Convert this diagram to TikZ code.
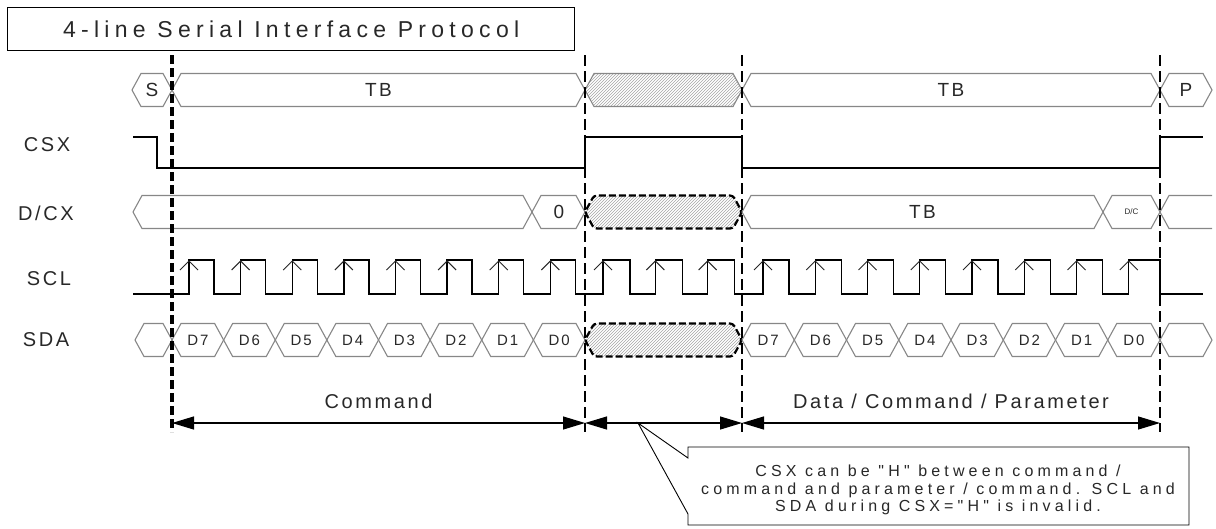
\documentclass[tikz,border=0pt]{standalone}
\usepackage{fontspec}
\setmainfont{Liberation Sans}
\newfontfamily\widefont[LetterSpace=23]{Liberation Sans}
\newfontfamily\notefont[LetterSpace=26]{Liberation Sans}
\newfontfamily\medfont[LetterSpace=13]{Liberation Sans}
\usetikzlibrary{arrows.meta, patterns}
\definecolor{busgray}{RGB}{135,135,135}
\definecolor{inkgray}{RGB}{40,40,40}

\newcommand{\hexcell}[4][]{%
  \draw[bus,#1] (#2,#4) -- ({#2+9},{#4-16.5}) -- ({#3-9},{#4-16.5}) -- (#3,#4)
    -- ({#3-9},{#4+16.5}) -- ({#2+9},{#4+16.5}) -- cycle;}

\begin{document}
\begin{tikzpicture}[x=1pt, y=-1pt,
    bus/.style={draw=busgray, line width=1.1pt},
    sig/.style={draw=black, line width=1.4pt},
    hatched/.style={pattern=north east lines, pattern color=busgray!75},
    hatchdash/.style={hatched, draw=black, line width=2.2pt, dash pattern=on 7pt off 3pt, rounded corners=3pt},
    guide/.style={draw=black, line width=2pt, dash pattern=on 11pt off 5pt},
    guidebold/.style={guide, line width=3.4pt, dash pattern=on 9pt off 4pt},
    dim/.style={draw=black, line width=1.2pt, >={Triangle[length=22pt,width=13pt]}, <->},
    risemark/.style={draw=black!85, line width=1pt},
    busText/.style={text=inkgray, font=\medfont\fontsize{19}{22}\selectfont, inner sep=0pt},
    bitText/.style={text=inkgray, font=\medfont\fontsize{15}{17}\selectfont, inner sep=0pt},
    sigName/.style={text=inkgray, font=\medfont\fontsize{20}{24}\selectfont, inner sep=0pt},
    dimText/.style={text=inkgray, font=\medfont\fontsize{20}{24}\selectfont, inner sep=0pt},
    noteText/.style={text=inkgray, font=\notefont\fontsize{16}{17.5}\selectfont, align=center, inner sep=0pt},
    callout/.style={draw=black, line width=0.9pt, fill=white},
  ]
  \useasboundingbox (0,0) rectangle (1216,528);

  \node[draw=black, line width=1.3pt, minimum width=567pt, minimum height=43pt, anchor=north west,
        inner sep=0pt, text=inkgray, font=\widefont\fontsize{23}{27}\selectfont] (title) at (7,7)
        {4-line Serial Interface Protocol};

  \node[sigName] (csx) at (47,145) {CSX};
  \node[sigName] (dcx) at (46,213) {D/CX};
  \node[sigName] (scl) at (49,279) {SCL};
  \node[sigName] (sda) at (46,340) {SDA};

  \hexcell{132}{172}{90}
  \node[busText] (start) at (152,90) {S};
  \hexcell{172}{585}{90}
  \node[busText] (tb1) at (378.5,90) {TB};
  \hexcell[hatched]{585}{742}{90}
  \hexcell{742}{1160}{90}
  \node[busText] (tb2) at (951,90) {TB};
  \hexcell{1160}{1212}{90}
  \node[busText] (stop) at (1186,90) {P};

  \draw[sig] (133,137) -- (157,137) -- (157,168) -- (585,168) -- (585,137) -- (742,137)
    -- (742,168) -- (1160,168) -- (1160,137) -- (1203,137);

  \hexcell{133}{532}{212}
  \hexcell{532}{585}{212}
  \node[busText] (dc0) at (559,212) {0};
  \hexcell[hatchdash]{585}{742}{212}
  \hexcell{742}{1103}{212}
  \node[busText] (dctb) at (922.5,212) {TB};
  \hexcell{1103}{1160}{212}
  \node[text=inkgray, font=\fontsize{8}{9}\selectfont, inner sep=0pt] (dcbit) at (1131.5,212) {D/C};
  \draw[bus] (1212,195.5) -- (1169,195.5) -- (1160,212) -- (1169,228.5) -- (1212,228.5);

  \draw[sig] (133,294)
    foreach \k in {0,...,7} {-- ({189+51.625*\k},294) -- ({189+51.625*\k},260) -- ({214+51.625*\k},260) -- ({214+51.625*\k},294)}
    foreach \k in {0,1,2} {-- ({603+52.33*\k},294) -- ({603+52.33*\k},260) -- ({630+52.33*\k},260) -- ({630+52.33*\k},294)}
    foreach \k in {0,...,6} {-- ({763+52.25*\k},294) -- ({763+52.25*\k},260) -- ({789+52.25*\k},260) -- ({789+52.25*\k},294)}
    -- (1128.75,294) -- (1128.75,260) -- (1160,260) -- (1160,294) -- (1203,294);
  \foreach \k in {0,...,7}
    \draw[risemark] ({180+51.625*\k},270) -- ({189+51.625*\k},261) -- ({198+51.625*\k},270);
  \foreach \k in {0,1,2}
    \draw[risemark] ({594+52.33*\k},270) -- ({603+52.33*\k},261) -- ({612+52.33*\k},270);
  \foreach \k in {0,...,7}
    \draw[risemark] ({754+52.25*\k},270) -- ({763+52.25*\k},261) -- ({772+52.25*\k},270);

  \hexcell{135}{172}{340}
  \foreach \b [count=\i from 0] in {D7,D6,D5,D4,D3,D2,D1,D0} {
    \pgfmathsetmacro\xa{172+51.625*\i}
    \pgfmathsetmacro\xb{\xa+51.625}
    \hexcell{\xa}{\xb}{340}
    \node[bitText] (cmdbit\i) at ({(\xa+\xb)/2},340) {\b};
  }
  \hexcell[hatchdash]{585}{742}{340}
  \foreach \b [count=\i from 0] in {D7,D6,D5,D4,D3,D2,D1,D0} {
    \pgfmathsetmacro\xa{742+52.25*\i}
    \pgfmathsetmacro\xb{\xa+52.25}
    \hexcell{\xa}{\xb}{340}
    \node[bitText] (databit\i) at ({(\xa+\xb)/2},340) {\b};
  }
  \hexcell{1160}{1212}{340}

  \foreach \n/\x in {0/172,1/585,2/742,3/1160} {
    \coordinate (top\n) at (\x,55);
    \coordinate (bot\n) at (\x,432);
    \coordinate (dim\n) at (\x,423);
  }
  \draw[guidebold] (top0) -- (bot0);
  \foreach \n in {1,2,3}
    \draw[guide] (top\n) -- (bot\n);

  \node[dimText] (cmd) at (378.5,401) {Command};
  \node[dimText] (dcp) at (951,401) {Data / Command / Parameter};
  \draw[dim] (dim0) -- (dim1);
  \draw[dim] (dim1) -- (dim2);
  \draw[dim] (dim2) -- (dim3);

  \coordinate (tip) at (638,423);
  \draw[callout] (688,447) -- (1189,447) -- (1189,525) -- (688,525) -- (688,514) -- (tip) -- (688,458) -- cycle;
  \node[noteText] (note) at (938,490)
    {CSX can be "H" between command /\\command and parameter / command. SCL and\\SDA during CSX="H" is invalid.};
\end{tikzpicture}
\end{document}
